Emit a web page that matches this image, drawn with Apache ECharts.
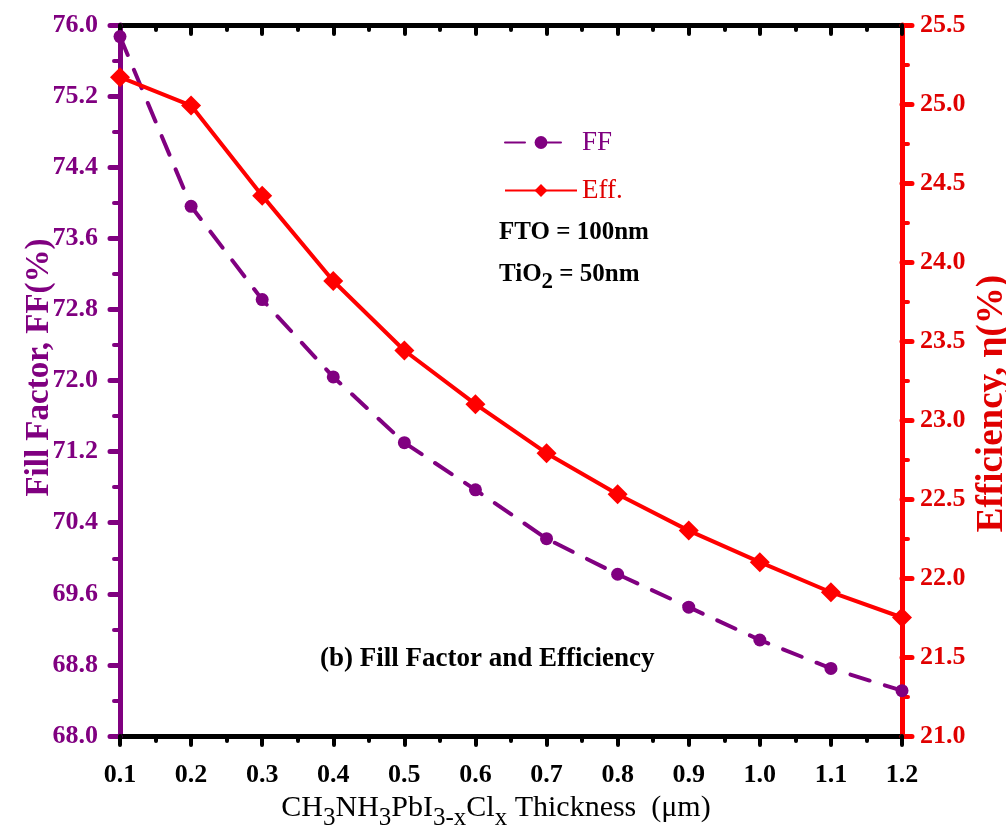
<!DOCTYPE html>
<html>
<head>
<meta charset="utf-8">
<script src="https://cdn.jsdelivr.net/npm/echarts@6/dist/echarts.min.js"></script>
<style>
  html, body { margin: 0; padding: 0; background: #fff; }
  #chart { width: 1006px; height: 830px; }
</style>
</head>
<body>
<div id="chart"></div>
<script>
// thickness of the absorber layer (um)
const thickness = [0.1, 0.2, 0.3, 0.4, 0.5, 0.6, 0.7, 0.8, 0.9, 1.0, 1.1, 1.2];
// fill factor (%)
const fillFactor = [75.87, 73.96, 72.91, 72.04, 71.30, 70.77, 70.22, 69.82, 69.45, 69.08, 68.76, 68.51];
// efficiency (%)
const efficiency = [25.17, 24.99, 24.42, 23.88, 23.44, 23.10, 22.79, 22.53, 22.30, 22.10, 21.91, 21.75];

const purple = '#800080';
const red = '#ff0000';
const serif = 'Liberation Serif';

let chart = echarts.init(document.getElementById('chart'));

let option = {
  backgroundColor: '#fff',
  animation: false,
  grid: {
    left: 120,
    right: 104,
    top: 25,
    bottom: 94,
    containLabel: false,
    outerBoundsMode: 'none'
  },
  legend: {
    orient: 'vertical',
    left: 499,
    top: 124,
    itemWidth: 72,
    itemHeight: 16,
    itemGap: 21,
    textStyle: { fontFamily: serif, fontSize: 27 },
    data: [
      { name: 'FF', textStyle: { color: purple } },
      { name: 'Eff.', textStyle: { color: '#e00000' } }
    ]
  },
  xAxis: [
    {
      type: 'value',
      min: 0.1,
      max: 1.2,
      interval: 0.1,
      position: 'bottom',
      name: 'CH{s|3}NH{s|3}PbI{s|3-x}Cl{s|x} Thickness  (μm)',
      nameLocation: 'middle',
      nameGap: 50,
      nameTextStyle: {
        fontFamily: serif,
        fontSize: 30,
        color: '#000',
        padding: [0, 30, 0, 0],
        rich: {
          s: { fontFamily: serif, fontSize: 25, padding: [20, 0, 0, 0], color: '#000' }
        }
      },
      axisLine: { lineStyle: { color: '#000', width: 5 } },
      axisTick: { inside: false, length: 9, lineStyle: { width: 4, cap: 'round' } },
      minorTick: { show: true, splitNumber: 2, length: 5, lineStyle: { width: 4, color: '#000', cap: 'round' } },
      axisLabel: {
        margin: 26,
        fontFamily: serif,
        fontWeight: 'bold',
        fontSize: 26,
        color: '#000',
        formatter: v => v.toFixed(1)
      },
      splitLine: { show: false }
    },
    {
      type: 'value',
      min: 0.1,
      max: 1.2,
      interval: 0.1,
      position: 'top',
      axisLine: { lineStyle: { color: '#000', width: 5 } },
      axisTick: { inside: true, length: 9, lineStyle: { width: 4, cap: 'round' } },
      minorTick: { show: true, splitNumber: 2, length: 5, lineStyle: { width: 4, color: '#000', cap: 'round' } },
      axisLabel: { show: false },
      splitLine: { show: false }
    }
  ],
  yAxis: [
    {
      type: 'value',
      min: 68,
      max: 76,
      interval: 0.8,
      position: 'left',
      name: 'Fill Factor, FF(%)',
      nameLocation: 'middle',
      nameRotate: 90,
      nameGap: 64,
      nameMoveOverlap: false,
      nameTextStyle: { fontFamily: serif, fontWeight: 'bold', fontSize: 33, color: purple, padding: [0, 0, 0, 26] },
      axisLine: { show: true, lineStyle: { color: purple, width: 5 } },
      axisTick: { show: true, length: 10, lineStyle: { width: 5, cap: 'round' } },
      minorTick: { show: true, splitNumber: 2, length: 6, lineStyle: { width: 4, color: purple, cap: 'round' } },
      axisLabel: {
        margin: 22,
        fontFamily: serif,
        fontWeight: 'bold',
        fontSize: 26,
        color: purple,
        formatter: v => v.toFixed(1)
      },
      splitLine: { show: false }
    },
    {
      type: 'value',
      min: 21,
      max: 25.5,
      interval: 0.5,
      position: 'right',
      name: 'Efficiency, η(%)',
      nameLocation: 'middle',
      nameRotate: 90,
      nameGap: 72,
      nameMoveOverlap: false,
      nameTextStyle: { fontFamily: serif, fontWeight: 'bold', fontSize: 37, color: '#e00000', padding: [0, 46, 0, 0] },
      axisLine: { show: true, lineStyle: { color: red, width: 5 } },
      axisTick: { show: true, length: 10, lineStyle: { width: 5, cap: 'round' } },
      minorTick: { show: true, splitNumber: 2, length: 6, lineStyle: { width: 4, color: red, cap: 'round' } },
      axisLabel: {
        margin: 18,
        fontFamily: serif,
        fontWeight: 'bold',
        fontSize: 26,
        color: '#e00000',
        formatter: v => v.toFixed(1)
      },
      splitLine: { show: false }
    }
  ],
  graphic: [
    {
      type: 'text',
      left: 499,
      top: 220,
      style: { text: 'FTO = 100nm', fontFamily: serif, fontWeight: 'bold', fontSize: 25, fill: '#000' }
    },
    {
      type: 'text',
      left: 499,
      top: 262,
      style: {
        text: 'TiO{s|2} = 50nm',
        fontFamily: serif, fontWeight: 'bold', fontSize: 25, fill: '#000',
        rich: { s: { fontFamily: serif, fontWeight: 'bold', fontSize: 23, padding: [16, 0, 0, 0] } }
      }
    },
    {
      type: 'text',
      left: 320,
      top: 646,
      style: { text: '(b) Fill Factor and Efficiency', fontFamily: serif, fontWeight: 'bold', fontSize: 27, fill: '#000' }
    }
  ],
  series: [
    {
      name: 'FF',
      type: 'line',
      xAxisIndex: 0,
      yAxisIndex: 0,
      symbol: 'circle',
      symbolSize: 13,
      itemStyle: { color: purple },
      lineStyle: { color: purple, width: 4, type: [20, 16], cap: 'round' },
      data: thickness.map((t, i) => [t, fillFactor[i]])
    },
    {
      name: 'Eff.',
      type: 'line',
      xAxisIndex: 0,
      yAxisIndex: 1,
      symbol: 'diamond',
      symbolSize: 20,
      itemStyle: { color: red },
      lineStyle: { color: red, width: 4 },
      data: thickness.map((t, i) => [t, efficiency[i]])
    }
  ]
};

chart.setOption(option);
</script>
</body>
</html>
